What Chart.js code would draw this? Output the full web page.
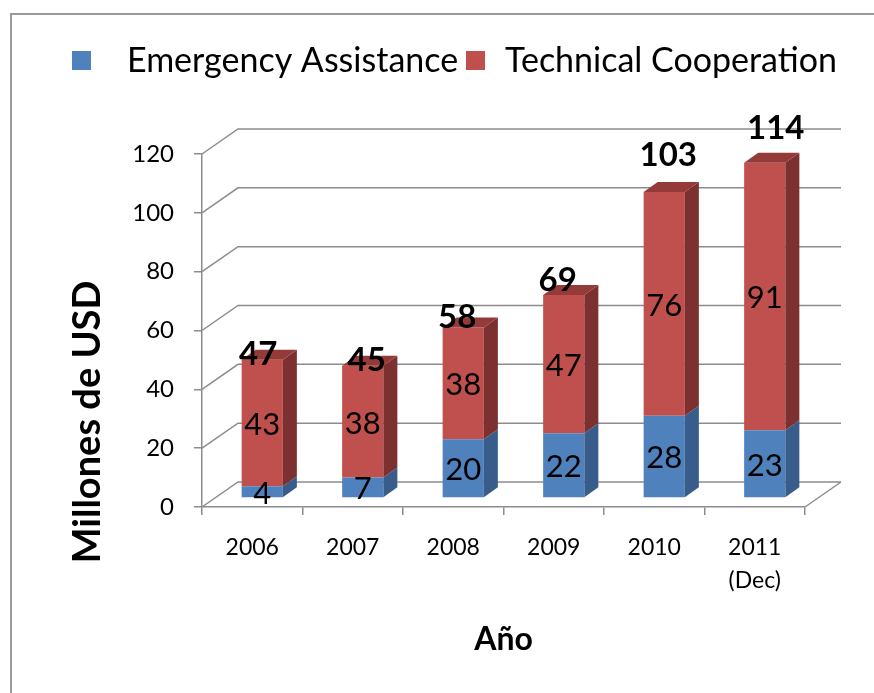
<!DOCTYPE html>
<html>
<head>
<meta charset="utf-8">
<script src="https://cdn.jsdelivr.net/npm/chart.js@4.4.0/dist/chart.umd.min.js"></script>
<style>
  html, body { margin: 0; padding: 0; background: #fff; }
</style>
</head>
<body>
<canvas id="chart" width="874" height="693"></canvas>
<script>
// data
const categories = ['2006', '2007', '2008', '2009', '2010', '2011\n(Dec)'];
const emergency = [4, 7, 20, 22, 28, 23];
const technical = [43, 38, 38, 47, 76, 91];
const totals = [47, 45, 58, 69, 103, 114];
const yTicks = [0, 20, 40, 60, 80, 100, 120];
const seriesNames = ['Emergency Assistance', 'Technical Cooperation'];
const yTitle = 'Millones de USD';

const FONT = 'Lato, "Open Sans", sans-serif';
const frontColors = ['#4F81BD', '#C0504D'];
const sideColors = ['#385D8A', '#7C302F'];
const topColors = ['#4A76AD', '#943B39'];
const gridColor = '#8c8c8c';

// fake 3d: shift of the bar fronts, bar depth, back wall
const FACE = [10, -9];
const BAR = [14, -10];
const WALL = [36, -25];

// hand placed total labels in excel, [dx, lift]
const totalNudge = [[-4, 5], [4, 5], [-6, 10], [-6, 15], [4, 37], [11, 34]];

const bars3d = {
  id: 'bars3d',
  beforeDraw(chart) {
    const ctx = chart.ctx;
    ctx.save();
    ctx.strokeStyle = '#9a9a9a';
    ctx.lineWidth = 2;
    ctx.beginPath();
    ctx.moveTo(11, 700);
    ctx.lineTo(11, 14);
    ctx.lineTo(880, 14);
    ctx.stroke();
    ctx.restore();
  },
  beforeDatasetsDraw(chart) {
    const { ctx, chartArea: a, scales: { y } } = chart;
    ctx.save();
    ctx.strokeStyle = gridColor;
    ctx.lineWidth = 1.5;
    ctx.beginPath();
    y.ticks.forEach(t => {
      const py = y.getPixelForValue(t.value);
      ctx.moveTo(a.left, py);
      ctx.lineTo(a.left + WALL[0], py + WALL[1]);
      ctx.lineTo(a.right + WALL[0], py + WALL[1]);
    });
    ctx.moveTo(a.right, a.bottom);
    ctx.lineTo(a.right + WALL[0], a.bottom + WALL[1]);
    ctx.stroke();
    ctx.restore();

    ctx.save();
    ctx.translate(FACE[0], FACE[1]);  // restored in afterDatasetsDraw
  },
  afterDatasetsDraw(chart) {
    const ctx = chart.ctx;
    const last = chart.data.datasets.length - 1;
    chart.data.datasets.forEach((ds, i) => {
      chart.getDatasetMeta(i).data.forEach(el => {
        const { x, y, base, width } = el.getProps(['x', 'y', 'base', 'width'], true);
        const l = x - width / 2, r = x + width / 2;
        const top = Math.min(y, base), bot = Math.max(y, base);
        ctx.fillStyle = sideColors[i];
        ctx.beginPath();
        ctx.moveTo(r, top);
        ctx.lineTo(r + BAR[0], top + BAR[1]);
        ctx.lineTo(r + BAR[0], bot + BAR[1]);
        ctx.lineTo(r, bot);
        ctx.closePath();
        ctx.fill();
        if (i === last) {
          ctx.fillStyle = topColors[i];
          ctx.beginPath();
          ctx.moveTo(l, top);
          ctx.lineTo(l + BAR[0], top + BAR[1]);
          ctx.lineTo(r + BAR[0], top + BAR[1]);
          ctx.lineTo(r, top);
          ctx.closePath();
          ctx.fill();
        }
      });
    });
    ctx.restore();
  },
  afterDraw(chart) {
    const ctx = chart.ctx;
    ctx.save();
    ctx.fillStyle = '#000';
    ctx.textAlign = 'center';
    ctx.textBaseline = 'middle';

    // values inside the segments
    ctx.font = '31px ' + FONT;
    chart.data.datasets.forEach((ds, i) => {
      chart.getDatasetMeta(i).data.forEach((el, j) => {
        const c = el.getCenterPoint();
        ctx.fillText(String(ds.data[j]), c.x + FACE[0], c.y + FACE[1] + 2);
      });
    });

    // totals on top
    ctx.font = 'bold 33px ' + FONT;
    const topMeta = chart.getDatasetMeta(chart.data.datasets.length - 1);
    topMeta.data.forEach((el, j) => {
      const [dx, lift] = totalNudge[j];
      ctx.fillText(String(totals[j]), el.x + FACE[0] + dx, el.y + FACE[1] - lift);
    });

    // y axis title, sits lower than the axis middle in the original
    ctx.save();
    ctx.translate(88, 422);
    ctx.rotate(-Math.PI / 2);
    ctx.font = 'bold 38px ' + FONT;
    ctx.fillText(yTitle, 0, 0);
    ctx.restore();

    // legend
    const boxX = [72, 466];
    const textX = [127, 505];
    ctx.textAlign = 'left';
    ctx.font = '34px ' + FONT;
    chart.data.datasets.forEach((ds, i) => {
      ctx.fillStyle = ds.backgroundColor;
      ctx.fillRect(boxX[i], 51, 19, 19);
      ctx.fillStyle = '#000';
      ctx.fillText(ds.label, textX[i], 61);
    });
    ctx.restore();
  }
};

const ctx = document.getElementById('chart').getContext('2d');

window.aidChart = new Chart(ctx, {
  type: 'bar',
  data: {
    labels: categories.map(c => c.split('\n')),
    datasets: [
      { label: seriesNames[0], data: emergency, backgroundColor: frontColors[0] },
      { label: seriesNames[1], data: technical, backgroundColor: frontColors[1] }
    ]
  },
  options: {
    responsive: false,
    animation: false,
    devicePixelRatio: 1,
    layout: { padding: { top: 154, right: 69, left: 0, bottom: 0 } },
    datasets: {
      bar: { barPercentage: 0.41, categoryPercentage: 1, clip: false }
    },
    plugins: {
      legend: { display: false },
      tooltip: { enabled: false }
    },
    scales: {
      x: {
        stacked: true,
        grid: { drawOnChartArea: false, tickLength: 8, color: gridColor, lineWidth: 1.5 },
        border: { color: gridColor, width: 1.5 },
        ticks: { color: '#000', font: { family: FONT, size: 23, lineHeight: 1.45 }, padding: 16, maxRotation: 0 },
        title: { display: true, text: 'Año', color: '#000', font: { family: FONT, size: 32, weight: 'bold' }, padding: { top: 0, bottom: 34 } },
        afterFit: s => { s.height = 186; }
      },
      y: {
        stacked: true,
        min: 0,
        max: 120,
        afterBuildTicks: s => { s.ticks = yTicks.map(v => ({ value: v })); },
        grid: { drawOnChartArea: false, tickLength: 8, color: gridColor, lineWidth: 1.5 },
        border: { color: gridColor, width: 1.5 },
        ticks: { color: '#000', font: { family: FONT, size: 24 }, padding: 20 },
        afterFit: s => { s.width = 202; }
      }
    }
  },
  plugins: [bars3d]
});
</script>
</body>
</html>
